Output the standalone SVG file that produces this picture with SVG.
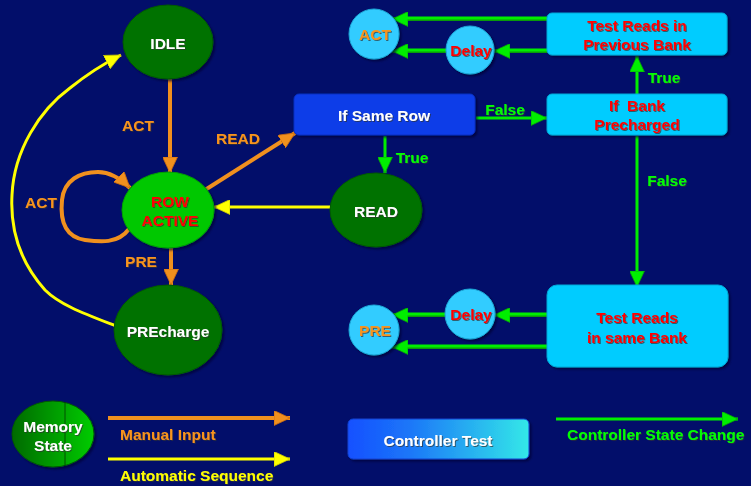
<svg xmlns="http://www.w3.org/2000/svg" width="751" height="486" viewBox="0 0 751 486">
  <defs>
    <style>
      text { font-family: "Liberation Sans", Arial, sans-serif; font-weight: bold; font-size: 15.5px; text-anchor: middle; }
      .t { filter: url(#tsh); }
      .white { fill: #ffffff; }
      .red { fill: #ff0000; }
      .orange { fill: #f7941d; }
      .green { fill: #00ff00; }
      .yellow { fill: #ffff00; }
      .state { filter: url(#sh); }
      .dark { fill: #007200; stroke: #005a00; stroke-width: 1; }
      .ctl { fill: #00ccff; stroke: #00a8d8; stroke-width: 1; }
      .circ { fill: #33ccff; stroke: #1ba8d8; stroke-width: 1; }
      .man { stroke: #f0901e; stroke-width: 4; fill: none; }
      .auto { stroke: #ffff00; stroke-width: 3; fill: none; }
      .chg { stroke: #00ee00; stroke-width: 3; fill: none; }
      .chgd { stroke: #0a9a0a; stroke-width: 4; fill: none; }
    </style>
    <filter id="sh" x="-20%" y="-20%" width="150%" height="150%">
      <feDropShadow dx="2" dy="2" stdDeviation="1" flood-color="#000033" flood-opacity="0.7"/>
    </filter>
    <filter id="tsh" x="-10%" y="-20%" width="130%" height="150%">
      <feDropShadow dx="1" dy="1" stdDeviation="0" flood-color="#303030" flood-opacity="0.7"/>
    </filter>
    <marker id="aO" markerUnits="userSpaceOnUse" markerWidth="17" markerHeight="15" refX="16" refY="7.5" orient="auto">
      <path d="M0,0 L16,7.5 L0,15 z" fill="#f0901e" stroke="#c86a10" stroke-width="0.8"/>
    </marker>
    <marker id="aY" markerUnits="userSpaceOnUse" markerWidth="17" markerHeight="15" refX="16" refY="7.5" orient="auto">
      <path d="M0,0 L16,7.5 L0,15 z" fill="#ffff00" stroke="#c8c800" stroke-width="0.8"/>
    </marker>
    <marker id="aG" markerUnits="userSpaceOnUse" markerWidth="17" markerHeight="15" refX="16" refY="7.5" orient="auto">
      <path d="M0,0 L16,7.5 L0,15 z" fill="#00ee00" stroke="#0a9a0a" stroke-width="0.8"/>
    </marker>
    <linearGradient id="gMem" x1="0" y1="0" x2="1" y2="0">
      <stop offset="0" stop-color="#006a00"/>
      <stop offset="1" stop-color="#00cc00"/>
    </linearGradient>
    <linearGradient id="gCtl" x1="0" y1="0" x2="1" y2="0">
      <stop offset="0" stop-color="#1450ff"/>
      <stop offset="0.35" stop-color="#1c78f8"/>
      <stop offset="1" stop-color="#33e8e8"/>
    </linearGradient>
  </defs>

  <rect width="751" height="486" fill="#020e6a"/>

  <!-- transitions -->
  <g id="connectors">
    <!-- automatic precharge back to idle -->
    <path class="auto" d="M116,326 C85,314 60,305 45,290 C20,262 10,230 12,195 C14,150 40,110 70,88 C90,72 105,63 121,55" marker-end="url(#aY)"/>
    <!-- idle to row active -->
    <line class="man" x1="170" y1="79" x2="170" y2="173" marker-end="url(#aO)"/>
    <!-- self loop on row active -->
    <path class="man" d="M129,229 C118,244 100,242 85,240 C65,237 60,220 62,200 C64,180 80,172 98,172 C112,172 122,180 130,188" marker-end="url(#aO)"/>
    <!-- row active to if same row -->
    <line class="man" x1="205" y1="190" x2="295" y2="133" marker-end="url(#aO)"/>
    <!-- read back to row active -->
    <line class="auto" x1="331" y1="207" x2="214" y2="207" stroke-width="4" marker-end="url(#aY)"/>
    <!-- row active to precharge -->
    <line class="man" x1="171" y1="248" x2="171" y2="285" marker-end="url(#aO)"/>

    <!-- controller state changes -->
    <line class="chg" x1="385" y1="136" x2="385" y2="173" stroke-width="4" marker-end="url(#aG)"/>
    <line class="chg" x1="476" y1="118" x2="547" y2="118" stroke-width="4" marker-end="url(#aG)"/>
    <line class="chg" x1="637" y1="94" x2="637" y2="56" stroke-width="4" marker-end="url(#aG)"/>
    <line class="chg" x1="637" y1="136" x2="637" y2="287" stroke-width="4" marker-end="url(#aG)"/>

    <line class="chgd" x1="547" y1="19" x2="392" y2="19" marker-end="url(#aG)"/>
    <line class="chg" x1="547" y1="18" x2="400" y2="18"/>
    <line class="chgd" x1="547" y1="51" x2="494" y2="51" marker-end="url(#aG)"/>
    <line class="chg" x1="547" y1="50" x2="500" y2="50"/>
    <line class="chgd" x1="446" y1="51" x2="392" y2="51" marker-end="url(#aG)"/>
    <line class="chg" x1="446" y1="50" x2="400" y2="50"/>

    <line class="chgd" x1="547" y1="315" x2="494" y2="315" marker-end="url(#aG)"/>
    <line class="chg" x1="547" y1="314" x2="500" y2="314"/>
    <line class="chgd" x1="445" y1="315" x2="392" y2="315" marker-end="url(#aG)"/>
    <line class="chg" x1="445" y1="314" x2="400" y2="314"/>
    <line class="chgd" x1="547" y1="347" x2="392" y2="347" marker-end="url(#aG)"/>
    <line class="chg" x1="547" y1="346" x2="400" y2="346"/>

    <!-- labels -->
    <text class="t orange" x="138" y="131">ACT</text>
    <text class="t orange" x="238" y="144">READ</text>
    <text class="t orange" x="41" y="208">ACT</text>
    <text class="t orange" x="141" y="267">PRE</text>
    <text class="t green" x="505" y="115">False</text>
    <text class="t green" x="412" y="163">True</text>
    <text class="t green" x="664" y="83">True</text>
    <text class="t green" x="667" y="186">False</text>
  </g>

  <!-- memory states -->
  <g id="idle" class="state">
    <ellipse class="dark" cx="168" cy="42" rx="45" ry="37"/>
    <text class="t white" x="168" y="49" font-size="16">IDLE</text>
  </g>
  <g id="row-active" class="state">
    <ellipse cx="168" cy="210" rx="46" ry="38" fill="#00c800" stroke="#00a000"/>
    <text class="t red" x="170" y="207">ROW</text>
    <text class="t red" x="170" y="226">ACTIVE</text>
  </g>
  <g id="precharge" class="state">
    <ellipse class="dark" cx="168" cy="330" rx="54" ry="45"/>
    <text class="t white" x="168" y="337" font-size="16">PREcharge</text>
  </g>
  <g id="read" class="state">
    <ellipse class="dark" cx="376" cy="210" rx="46" ry="37"/>
    <text class="t white" x="376" y="217">READ</text>
  </g>

  <!-- controller tests -->
  <g id="if-same-row" class="state">
    <rect x="294" y="94" width="181" height="41" rx="5" fill="#0a3ce8" stroke="#0830c0"/>
    <text class="t white" x="384" y="121">If Same Row</text>
  </g>
  <g id="if-bank-precharged" class="state">
    <rect class="ctl" x="547" y="94" width="180" height="41" rx="5"/>
    <text class="t red" x="637" y="111" xml:space="preserve">If  Bank</text>
    <text class="t red" x="637" y="130">Precharged</text>
  </g>
  <g id="test-prev-bank" class="state">
    <rect class="ctl" x="547" y="13" width="180" height="42" rx="5"/>
    <text class="t red" x="637" y="31">Test Reads in</text>
    <text class="t red" x="637" y="50">Previous Bank</text>
  </g>
  <g id="test-same-bank" class="state">
    <rect class="ctl" x="547" y="285" width="181" height="82" rx="10"/>
    <text class="t red" x="637" y="323">Test Reads</text>
    <text class="t red" x="637" y="343">in same Bank</text>
  </g>
  <g id="act" class="state">
    <circle class="circ" cx="374" cy="34" r="25"/>
    <text class="t orange" x="375" y="40">ACT</text>
  </g>
  <g id="delay-top" class="state">
    <circle class="circ" cx="470" cy="50" r="24"/>
    <text class="t red" x="471" y="56">Delay</text>
  </g>
  <g id="delay-bottom" class="state">
    <circle class="circ" cx="470" cy="314" r="25"/>
    <text class="t red" x="471" y="320">Delay</text>
  </g>
  <g id="pre" class="state">
    <circle class="circ" cx="374" cy="330" r="25"/>
    <text class="t orange" x="375" y="336">PRE</text>
  </g>

  <!-- legend -->
  <g id="legend-memory" class="state">
    <ellipse cx="53" cy="434" rx="41" ry="33" fill="url(#gMem)" stroke="#005a00"/>
    <line x1="65" y1="402" x2="65" y2="466" stroke="#003a00" stroke-width="0.8"/>
    <text class="t white" x="53" y="432">Memory</text>
    <text class="t white" x="53" y="451">State</text>
  </g>
  <g id="legend-manual">
    <line class="man" x1="108" y1="418" x2="290" y2="418" marker-end="url(#aO)"/>
    <text class="t orange" x="120" y="440" style="text-anchor:start">Manual Input</text>
  </g>
  <g id="legend-auto">
    <line class="auto" x1="108" y1="459" x2="290" y2="459" stroke-width="4" marker-end="url(#aY)"/>
    <text class="t yellow" x="120" y="481" style="text-anchor:start">Automatic Sequence</text>
  </g>
  <g id="legend-controller" class="state">
    <rect x="348" y="419" width="181" height="40" rx="5" fill="url(#gCtl)" stroke="#1040d0"/>
    <text class="t white" x="438" y="446">Controller Test</text>
  </g>
  <g id="legend-change">
    <line class="chg" x1="556" y1="419" x2="738" y2="419" stroke-width="4" marker-end="url(#aG)"/>
    <text class="t green" x="567" y="440" style="text-anchor:start">Controller State Change</text>
  </g>
</svg>
